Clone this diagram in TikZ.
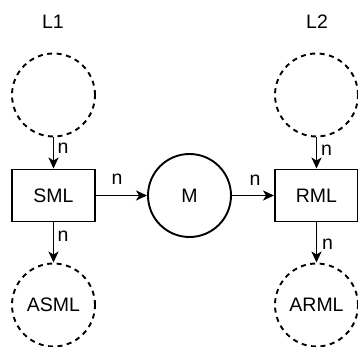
\documentclass[tikz,border=0pt]{standalone}
\usepackage{fontspec}
\setmainfont{Liberation Sans}
\usetikzlibrary{arrows.meta}
\begin{document}
\begin{tikzpicture}[x=1pt,y=-1pt,
  every node/.style={font=\fontsize{19.5}{23}\selectfont},
  dcirc/.style={draw, circle, dash pattern=on 5pt off 4.5pt, line width=1.9pt, minimum size=83pt, inner sep=0pt},
  scirc/.style={draw, circle, line width=1.9pt, minimum size=83pt, inner sep=0pt},
  box/.style={draw, rectangle, line width=1.9pt, minimum width=83pt, minimum height=52pt, inner sep=0pt},
  conn/.style={line width=1.9pt, -{Stealth[length=11pt,width=10pt,inset=3pt]}},
  lab/.style={inner sep=0pt}
]
\useasboundingbox (0,0) rectangle (358,347);
\node (L1) at (53,22) {L1};
\node (L2) at (317,22) {L2};
\node[dcirc] (T1) at (53.5,95) {};
\node[dcirc] (T2) at (316.5,95) {};
\node[box] (SML) at (53.5,195.5) {SML};
\node[scirc] (M) at (189.5,195.5) {M};
\node[box] (RML) at (316.5,195.5) {RML};
\node[dcirc] (ASML) at (53.5,305) {ASML};
\node[dcirc] (ARML) at (316.5,305) {ARML};
\draw[conn] (T1) -- (SML);
\draw[conn] (SML) -- (ASML);
\draw[conn] (SML) -- (M);
\draw[conn] (M) -- (RML);
\draw[conn] (T2) -- (RML);
\draw[conn] (RML) -- (ARML);
\node[lab] (n1) at (63,148.5) {n};
\node[lab] (n2) at (63,236) {n};
\node[lab] (n3) at (117,179.5) {n};
\node[lab] (n4) at (255,180) {n};
\node[lab] (n5) at (326.5,150) {n};
\node[lab] (n6) at (327.5,244) {n};
\end{tikzpicture}
\end{document}
